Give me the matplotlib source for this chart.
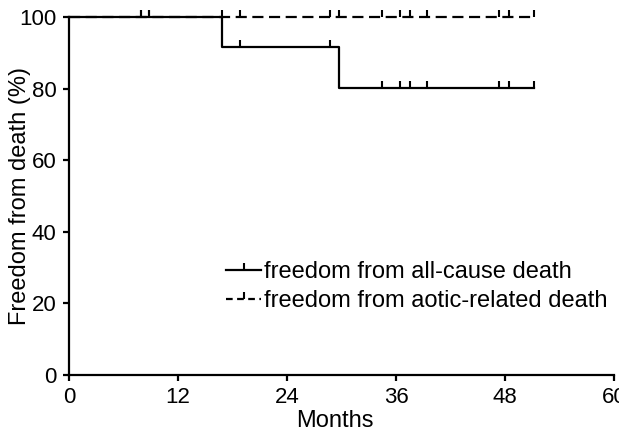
import numpy as np
import matplotlib
matplotlib.use('Agg')
import matplotlib.pyplot as plt
from matplotlib.lines import Line2D

plt.rcParams['font.family'] = ['Liberation Sans', 'DejaVu Sans']

# step curves (months, % free from death)
allcause_t = [0, 16.8, 29.7, 51.2]
allcause_s = [100, 91.7, 80.2, 80.2]
aortic_t = [0, 51.2]
aortic_s = [100, 100]

# censored observations
allcause_cens = [7.9, 8.8, 18.8, 28.7, 34.5, 36.4, 37.5, 39.4, 47.3, 48.4, 51.2]
aortic_cens = [7.9, 8.8, 16.8, 18.8, 28.7, 29.7, 34.5, 36.4, 37.5, 39.4, 47.3, 48.4, 51.2]

labels = ['freedom from all-cause death', 'freedom from aotic-related death']


def step_value(t, s, x):
    idx = np.searchsorted(t, x, side='right') - 1
    return np.array(s)[idx]


tick = [(0, 0), (0, 1)]  # censor mark pointing up

fig = plt.figure(figsize=(6.19, 4.32), dpi=100)
ax = fig.add_axes([0.1115, 0.132, 0.8805, 0.8286])

ax.step(aortic_t, aortic_s, where='post', color='k', lw=1.6, ls=(0, (5, 2.5)), clip_on=False)
ax.step(allcause_t, allcause_s, where='post', color='k', lw=1.6, clip_on=False)
ax.plot(aortic_cens, step_value(aortic_t, aortic_s, aortic_cens), ls='none',
        marker=tick, ms=10, mew=1.5, color='k', clip_on=False)
ax.plot(allcause_cens, step_value(allcause_t, allcause_s, allcause_cens), ls='none',
        marker=tick, ms=10, mew=1.5, color='k', clip_on=False)

ax.set_xlim(0, 60)
ax.set_ylim(0, 100)
ax.set_xticks([0, 12, 24, 36, 48, 60])
ax.set_yticks([0, 20, 40, 60, 80, 100])
for side in ['top', 'right']:
    ax.spines[side].set_visible(False)
for side in ['left', 'bottom']:
    ax.spines[side].set_linewidth(1.6)
ax.tick_params(width=1.6, length=4.5, labelsize=16)
ax.tick_params(axis='x', pad=4)
ax.tick_params(axis='y', pad=4.5)
ax.set_xlabel('Months', fontsize=17)
ax.set_ylabel('Freedom from death (%)', fontsize=17)
ax.xaxis.set_label_coords(0.487, -0.097)
ax.yaxis.set_label_coords(-0.07, 0.5)

handles = [Line2D([], [], color='k', lw=1.6, marker=tick, ms=10, mew=1.5),
           Line2D([], [], color='k', lw=1.6, ls=(0, (3, 2)), marker=tick, ms=10, mew=1.5)]
ax.legend(handles, labels, loc='upper left', bbox_to_anchor=(0.288, 0.318), frameon=False,
          fontsize=17, handlelength=1.5, handletextpad=0.1, borderpad=0, borderaxespad=0,
          labelspacing=0.3, numpoints=1)

fig.savefig('out.png', dpi=100)
